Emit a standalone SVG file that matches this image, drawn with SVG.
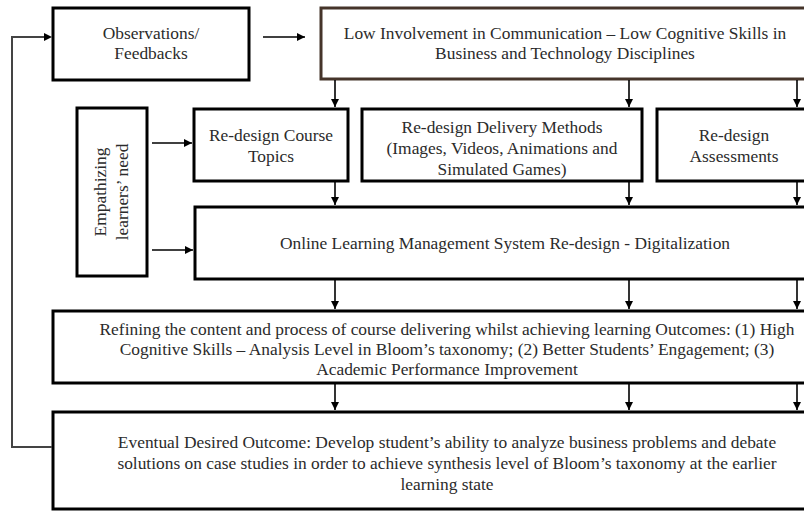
<svg xmlns="http://www.w3.org/2000/svg" width="804" height="512" viewBox="0 0 804 512">
<defs>
<marker id="ah" markerWidth="10" markerHeight="10" refX="8" refY="4" orient="auto" markerUnits="userSpaceOnUse">
<path d="M0,0 L8,4 L0,8 Z" fill="#000"/>
</marker>
<style>
.box{fill:#fff;stroke:#000;stroke-width:3}
.brown{fill:#fff;stroke:#45342a;stroke-width:3}
.t{font-family:"Liberation Serif","Times New Roman",serif;font-size:17.4px;fill:#2b2b2b;text-anchor:middle}
.c{stroke:#000;stroke-width:1.6;fill:none}
.fb{stroke:#444;stroke-width:2;fill:none}
</style>
</defs>
<rect width="804" height="512" fill="#fff"/>
<g id="observations">
<rect class="box" x="53" y="8" width="196" height="72"/>
<text class="t" x="151" y="39">Observations/</text>
<text class="t" x="151" y="59">Feedbacks</text>
</g>
<g id="low-involvement">
<rect class="brown" x="321" y="8" width="510" height="71"/>
<text class="t" x="565" y="39">Low Involvement in Communication – Low Cognitive Skills in</text>
<text class="t" x="565" y="59">Business and Technology Disciplines</text>
</g>
<g id="empathizing">
<rect class="box" x="77" y="108" width="70" height="168"/>
<text class="t" transform="translate(106,192) rotate(-90)"><tspan x="0" y="0">Empathizing</tspan><tspan x="0" y="22">learners’ need</tspan></text>
</g>
<g id="course-topics">
<rect class="box" x="194" y="109" width="154" height="72"/>
<text class="t" x="271" y="141">Re-design Course</text>
<text class="t" x="271" y="162">Topics</text>
</g>
<g id="delivery-methods">
<rect class="box" x="362" y="109" width="280" height="72"/>
<text class="t" x="502" y="133">Re-design Delivery Methods</text>
<text class="t" x="502" y="154">(Images, Videos, Animations and</text>
<text class="t" x="502" y="175">Simulated Games)</text>
</g>
<g id="assessments">
<rect class="box" x="657" y="109" width="170" height="72"/>
<text class="t" x="734" y="141">Re-design</text>
<text class="t" x="734" y="162">Assessments</text>
</g>
<g id="lms">
<rect class="box" x="195" y="207" width="630" height="72"/>
<text class="t" x="505" y="249">Online Learning Management System Re-design - Digitalization</text>
</g>
<g id="refining">
<rect class="box" x="53" y="311" width="790" height="72"/>
<text class="t" x="447" y="335">Refining the content and process of course delivering whilst achieving learning Outcomes: (1) High</text>
<text class="t" x="447" y="355">Cognitive Skills – Analysis Level in Bloom’s taxonomy; (2) Better Students’ Engagement; (3)</text>
<text class="t" x="447" y="375">Academic Performance Improvement</text>
</g>
<g id="eventual">
<rect class="box" x="53" y="412" width="790" height="97"/>
<text class="t" x="447" y="448">Eventual Desired Outcome: Develop student’s ability to analyze business problems and debate</text>
<text class="t" x="447" y="469">solutions on case studies in order to achieve synthesis level of Bloom’s taxonomy at the earlier</text>
<text class="t" x="447" y="490">learning state</text>
</g>
<g id="connectors">
<line class="c" x1="263" y1="37" x2="305" y2="37" marker-end="url(#ah)"/>
<path class="fb" d="M52,447 H12 V37 H44"/>
<path d="M44,33 L52,37 L44,41 Z" fill="#000"/>
<line class="c" x1="152" y1="143" x2="192" y2="143" marker-end="url(#ah)"/>
<line class="c" x1="152" y1="250" x2="193" y2="250" marker-end="url(#ah)"/>
<line class="c" x1="335" y1="80" x2="335" y2="107" marker-end="url(#ah)"/>
<line class="c" x1="629" y1="80" x2="629" y2="107" marker-end="url(#ah)"/>
<line class="c" x1="797" y1="80" x2="797" y2="107" marker-end="url(#ah)"/>
<line class="c" x1="335" y1="182" x2="335" y2="205" marker-end="url(#ah)"/>
<line class="c" x1="629" y1="182" x2="629" y2="205" marker-end="url(#ah)"/>
<line class="c" x1="797" y1="182" x2="797" y2="205" marker-end="url(#ah)"/>
<line class="c" x1="335" y1="280" x2="335" y2="309" marker-end="url(#ah)"/>
<line class="c" x1="629" y1="280" x2="629" y2="309" marker-end="url(#ah)"/>
<line class="c" x1="797" y1="280" x2="797" y2="309" marker-end="url(#ah)"/>
<line class="c" x1="335" y1="384" x2="335" y2="410" marker-end="url(#ah)"/>
<line class="c" x1="629" y1="384" x2="629" y2="410" marker-end="url(#ah)"/>
<line class="c" x1="797" y1="384" x2="797" y2="410" marker-end="url(#ah)"/>
</g>
</svg>
